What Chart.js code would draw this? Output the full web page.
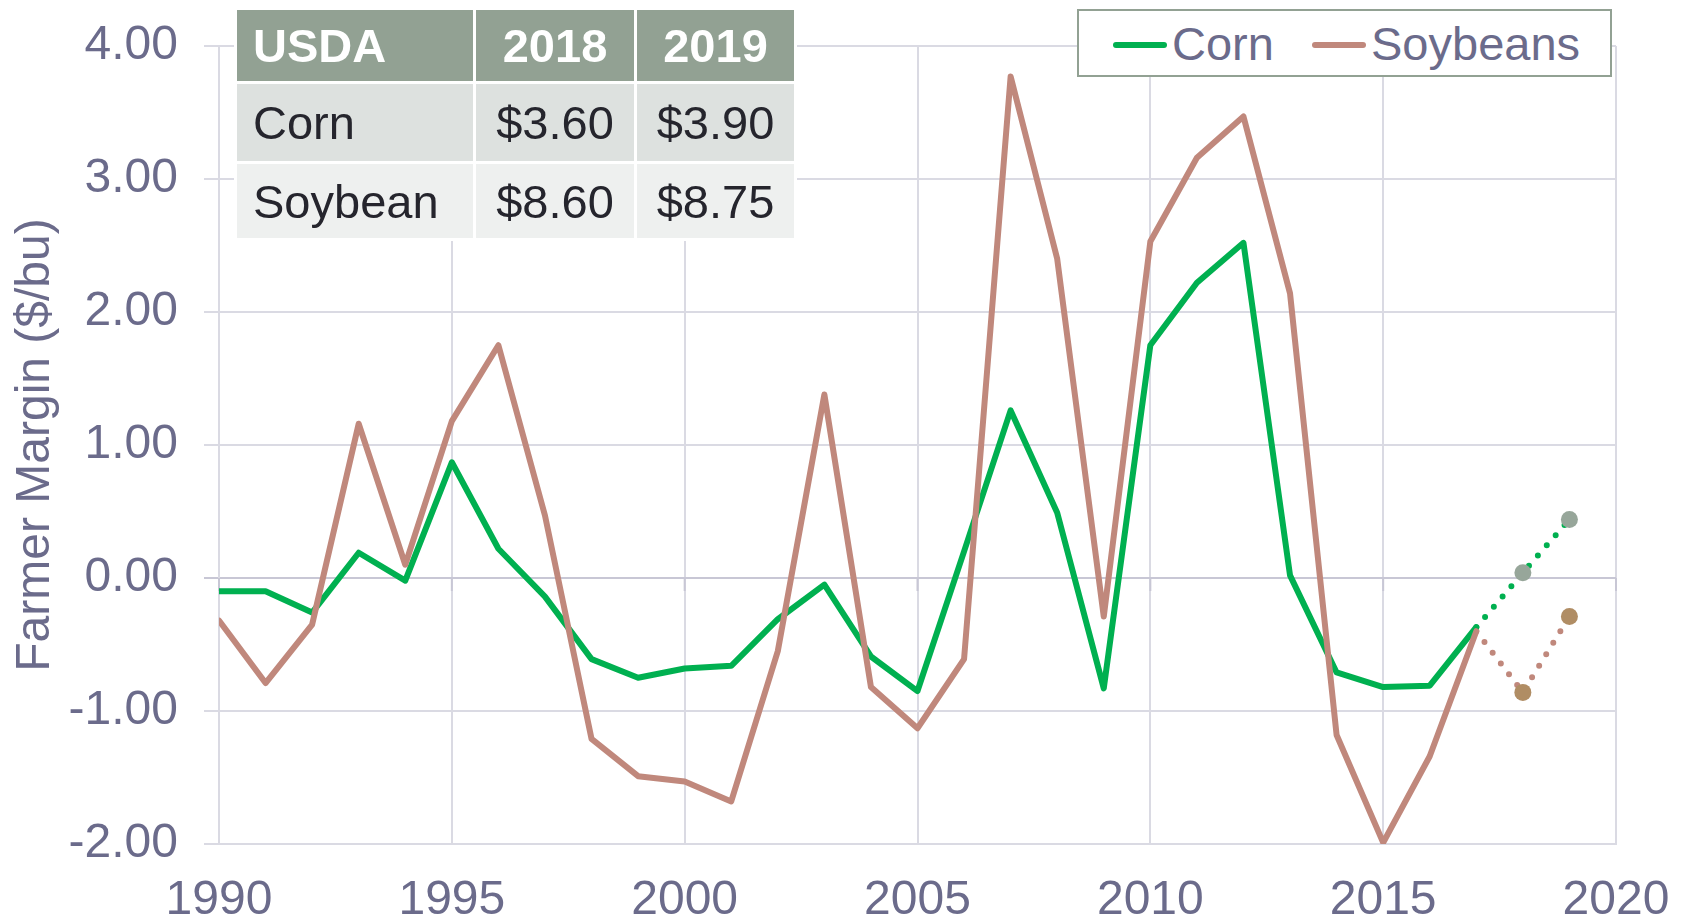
<!DOCTYPE html>
<html>
<head>
<meta charset="utf-8">
<script src="https://cdn.jsdelivr.net/npm/chart.js@4.4.1/dist/chart.umd.min.js"></script>
<style>
  html, body { margin: 0; padding: 0; background: #ffffff; }
  #wrap { position: relative; width: 1686px; height: 923px; overflow: hidden; }
  canvas { position: absolute; left: 0; top: 0; }
  .tbl { position: absolute; left: 234px; top: 7px; border-collapse: collapse;
         font-family: "Liberation Sans", Arial, sans-serif; font-size: 47px; }
  .tbl td { border: 3px solid #ffffff; padding: 0; line-height: 1; box-sizing: border-box; }
  .tbl tr.h td { background: #92a193; color: #ffffff; font-weight: bold; height: 74px; }
  .tbl tr.r1 td { background: #dde1df; color: #25252d; height: 80px; }
  .tbl tr.r2 td { background: #eef0ef; color: #25252d; height: 77px; }
  .tbl td.c0 { width: 239px; text-align: left; padding-left: 16px; }
  .tbl td.c1 { width: 161px; text-align: center; }
  .tbl td.c2 { width: 160px; text-align: center; }
  .legend { position: absolute; left: 1077px; top: 9px; width: 535px; height: 68px; box-sizing: border-box;
            border: 2px solid #92a193; background: #ffffff;
            font-family: "Liberation Sans", Arial, sans-serif; font-size: 47px; color: #6b6b8b; }
  .legend .sw { position: absolute; top: 31px; height: 6px; width: 54px; border-radius: 3px; }
  .legend .tx { position: absolute; top: 6px; line-height: 54px; white-space: nowrap; }
</style>
</head>
<body>
<div id="wrap">
  <canvas id="c" width="1686" height="923"></canvas>
  <table class="tbl" id="tbl"></table>
  <div class="legend" id="legend"></div>
</div>
<script>
// ---- data ----
const years = [1990,1991,1992,1993,1994,1995,1996,1997,1998,1999,2000,2001,2002,2003,2004,2005,2006,2007,2008,2009,2010,2011,2012,2013,2014,2015,2016,2017];
const cornMargin = [-0.10,-0.10,-0.26,0.19,-0.02,0.87,0.22,-0.14,-0.61,-0.75,-0.68,-0.66,-0.31,-0.05,-0.59,-0.85,0.20,1.26,0.49,-0.83,1.75,2.22,2.52,0.02,-0.71,-0.82,-0.81,-0.37];
const soyMargin  = [-0.32,-0.79,-0.35,1.16,0.10,1.18,1.75,0.47,-1.21,-1.49,-1.53,-1.68,-0.55,1.38,-0.82,-1.13,-0.61,3.77,2.40,-0.29,2.53,3.16,3.47,2.14,-1.18,-1.99,-1.34,-0.40];
const projYears = [2017, 2018, 2019];
const cornProj  = [-0.37, 0.04, 0.44];
const soyProj   = [-0.40, -0.86, -0.29];
const seriesNames = ['Corn', 'Soybeans'];
const yAxisTitle = 'Farmer Margin ($/bu)';
const tableHeader = ['USDA', '2018', '2019'];
const tableCorn = ['Corn', '$3.60', '$3.90'];
const tableSoy  = ['Soybean', '$8.60', '$8.75'];

// ---- colors ----
const GREEN = '#00b050', BROWN = '#c0887c', GRID = '#dadae3', ZERO = '#c8c7d5', TXT = '#6b6b8b';

// table
(function(){
  const t = document.getElementById('tbl');
  const rows = [[tableHeader,'h'],[tableCorn,'r1'],[tableSoy,'r2']];
  rows.forEach(([cells, cls]) => {
    const tr = document.createElement('tr'); tr.className = cls;
    cells.forEach((c, i) => { const td = document.createElement('td'); td.className = 'c' + i; td.textContent = c; tr.appendChild(td); });
    t.appendChild(tr);
  });
  const lg = document.getElementById('legend');
  const items = [[seriesNames[0], GREEN, 34, 93], [seriesNames[1], BROWN, 233, 292]];
  items.forEach(([name, col, sx, tx]) => {
    const s = document.createElement('div'); s.className = 'sw'; s.style.left = sx + 'px'; s.style.background = col; lg.appendChild(s);
    const d = document.createElement('div'); d.className = 'tx'; d.style.left = tx + 'px'; d.textContent = name; lg.appendChild(d);
  });
})();

const toXY = (xs, ys) => xs.map((x, i) => ({x: x, y: ys[i]}));

const zeroTicks = {
  id: 'zeroTicks',
  beforeDatasetsDraw(chart) {
    const {ctx, scales: {x, y}} = chart;
    const y0 = y.getPixelForValue(0);
    ctx.save();
    ctx.strokeStyle = ZERO; ctx.lineWidth = 2;
    x.ticks.forEach(t => {
      const px = x.getPixelForValue(t.value);
      ctx.beginPath(); ctx.moveTo(px, y0); ctx.lineTo(px, y0 + 13); ctx.stroke();
    });
    ctx.restore();
  }
};

Chart.defaults.font.family = '"Liberation Sans", Arial, sans-serif';

new Chart(document.getElementById('c'), {
  type: 'line',
  data: {
    datasets: [
      { label: seriesNames[1], data: toXY(years, soyMargin), borderColor: BROWN, borderWidth: 6, pointRadius: 0, order: 0, borderJoinStyle: 'round', borderCapStyle: 'round' },
      { label: seriesNames[0], data: toXY(years, cornMargin), borderColor: GREEN, borderWidth: 6, pointRadius: 0, order: 1, borderJoinStyle: 'round', borderCapStyle: 'round' },
      { label: 'Corn proj', data: toXY(projYears, cornProj), borderColor: GREEN, borderWidth: 6, borderDash: [0, 13.5], borderCapStyle: 'round',
        pointRadius: [0, 8.5, 8.5], pointBackgroundColor: '#97a69a', pointBorderWidth: 0, order: 2 },
      { label: 'Soy proj', data: toXY(projYears, soyProj), borderColor: BROWN, borderWidth: 6, borderDash: [0, 13.5], borderCapStyle: 'round',
        pointRadius: [0, 8.5, 8.5], pointBackgroundColor: '#b08d64', pointBorderWidth: 0, order: 2 }
    ]
  },
  options: {
    responsive: false,
    animation: false,
    devicePixelRatio: 1,
    layout: { padding: { left: 0, right: 70, top: 46, bottom: 0 } },
    plugins: { legend: { display: false }, tooltip: { enabled: false } },
    scales: {
      x: {
        type: 'linear', min: 1990, max: 2020,
        ticks: { stepSize: 5, color: TXT, font: { size: 48 }, padding: 28, callback: v => String(v), maxRotation: 0 },
        grid: { color: GRID, lineWidth: 2, drawTicks: false },
        border: { color: GRID, width: 2 },
        afterFit(s) { s.height = 79; s.paddingLeft = 0; s.paddingRight = 0; }
      },
      y: {
        min: -2, max: 4,
        ticks: { stepSize: 1, color: TXT, font: { size: 48 }, padding: 26, callback: v => v.toFixed(2) },
        grid: { color: c => (c.tick && c.tick.value === 0) ? ZERO : GRID, lineWidth: 2, drawTicks: true, tickLength: 15 },
        border: { color: GRID, width: 2 },
        title: { display: true, text: yAxisTitle, color: TXT, font: { size: 48 }, padding: { top: 7, bottom: 0 } },
        afterFit(s) { s.width = 219; s.paddingTop = 0; s.paddingBottom = 0; }
      }
    }
  },
  plugins: [zeroTicks]
});
</script>
</body>
</html>
